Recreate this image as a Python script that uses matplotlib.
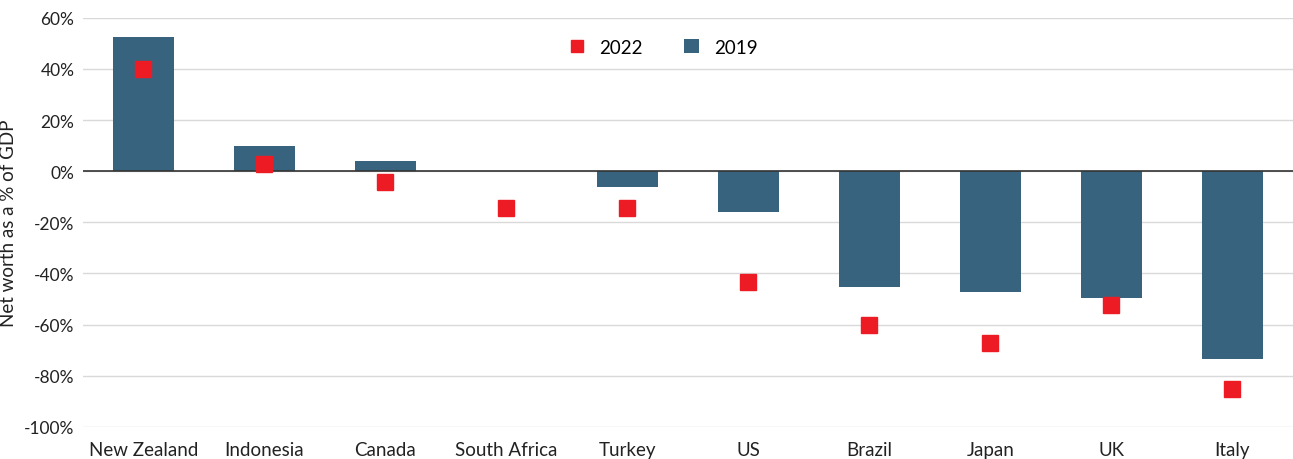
import matplotlib.pyplot as plt
import numpy as np

countries = ["New Zealand", "Indonesia", "Canada", "South Africa", "Turkey",
             "US", "Brazil", "Japan", "UK", "Italy"]
nw_2019 = [52.7, 10, 4, 0, -6.3, -16, -45.3, -47.2, -49.5, -73.3]
nw_2022 = [40, 3, -4.3, -14.5, -14.5, -43.4, -60.2, -67.2, -52.3, -85.2]
yticks = [60, 40, 20, 0, -20, -40, -60, -80, -100]

plt.rcParams['font.family'] = ['Lato', 'DejaVu Sans']

fig = plt.figure(figsize=(12.93, 4.6), dpi=100)
ax = fig.add_axes([0.064, 0.07, 0.936, 0.889])

x = np.arange(len(countries))
ax.bar(x, nw_2019, width=0.5, color="#38637e", label="2019", zorder=2)
ax.plot(x, nw_2022, "s", color="#ed1c24", markersize=11.5, label="2022",
        linestyle="none", zorder=3)

ax.axhline(0, color="#333333", linewidth=1.2, zorder=2.5)
ax.set_ylim(-100, 60)
ax.set_xlim(-0.5, len(countries) - 0.5)
ax.set_yticks(yticks)
ax.set_yticklabels([f"{v}%" for v in yticks])
ax.set_xticks(x)
ax.set_xticklabels(countries)
ax.grid(axis="y", color="#d9d9d9", linewidth=1, zorder=0)
ax.set_axisbelow(True)
for s in ax.spines.values():
    s.set_visible(False)
ax.tick_params(axis="y", length=0, labelsize=12.5, colors="#222222", pad=6)
ax.tick_params(axis="x", length=0, labelsize=13.5, colors="#222222", pad=10)
ax.set_ylabel("Net worth as a % of GDP", fontsize=13.5, color="#222222")
ax.yaxis.set_label_coords(-0.054, 0.5)

ax.legend(loc="upper center", bbox_to_anchor=(0.48, 0.99),
          ncol=2, frameon=False, fontsize=13.5, handlelength=0.8, handleheight=0.8,
          columnspacing=2.2, markerscale=0.75)

fig.savefig("out.png", dpi=100)
